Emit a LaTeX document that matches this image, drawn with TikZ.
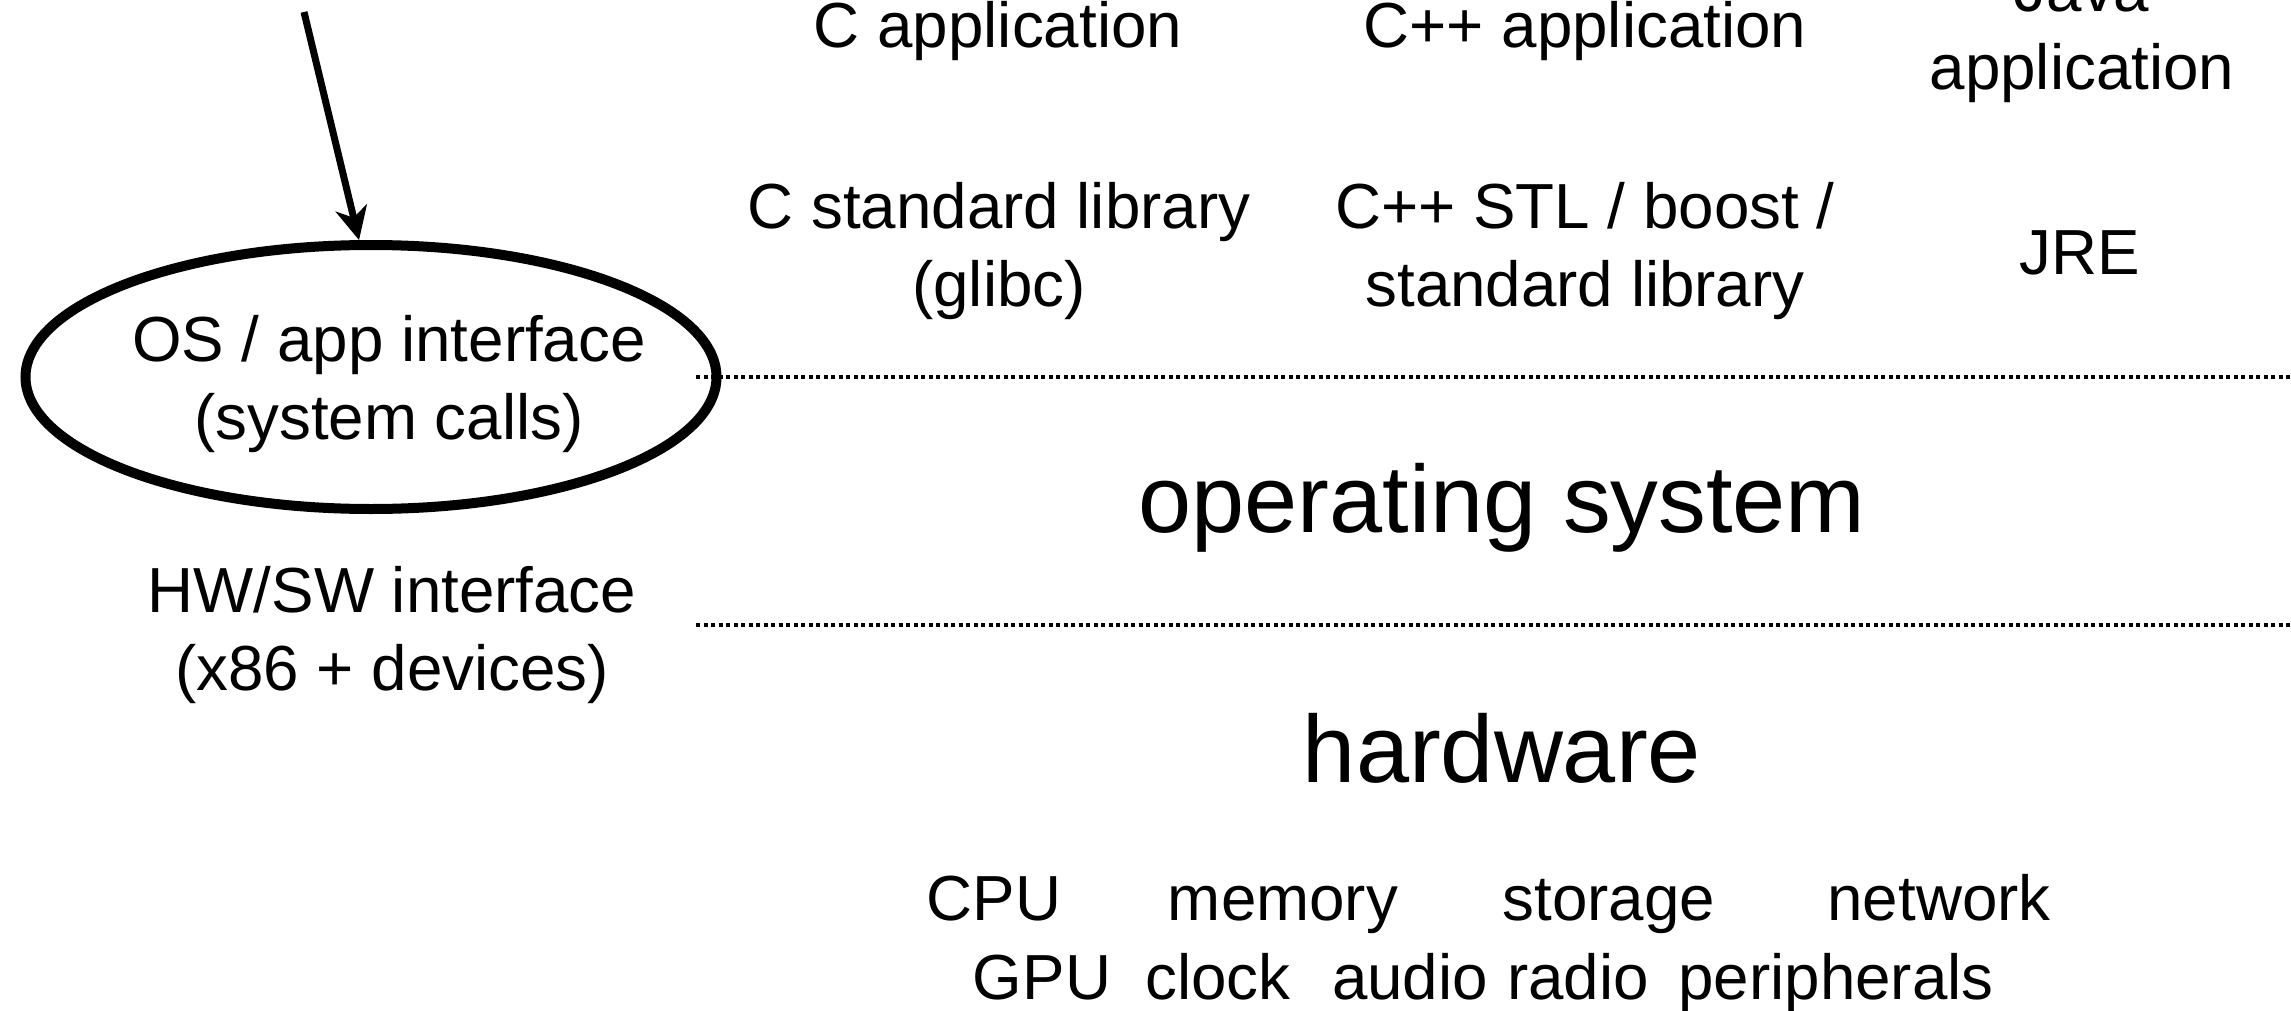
\documentclass[tikz,border=0pt]{standalone}
\usepackage{fontspec}
\setmainfont{Liberation Sans}
\usetikzlibrary{shapes.geometric,arrows.meta}
\begin{document}
\begin{tikzpicture}[x=0.5pt,y=-0.5pt,
  lbl/.style={inner sep=0pt, align=center, font=\fontsize{31.85}{39}\selectfont},
  word/.style={lbl, anchor=base},
  big/.style={inner sep=0pt, anchor=base, font=\fontsize{47.75}{57}\selectfont},
  layer/.style={line width=2pt, dash pattern=on 2pt off 1.75pt},
  iface/.style={ellipse, draw, line width=5pt, minimum width=345.5pt, minimum height=132pt, inner sep=0pt},
  pointer/.style={line width=3.5pt, -{Stealth[length=16.5pt, width=16pt, inset=5pt]}}
]
\useasboundingbox (0,0) rectangle (2291,1011);

% application layer
\node[word] (capp) at (998,48) {C application};
\node[word] (cppapp) at (1585,48) {C++ application};
\node[lbl] (java) at (2082,35) {Java\\application};

% libraries
\node[lbl] (clib) at (999,251) {C standard library\\(glibc)};
\node[lbl] (cpplib) at (1585,251) {C++ STL / boost /\\standard library};
\node[word] (jre) at (2080,274) {JRE};

% layer boundaries
\coordinate (b1a) at (696,377);
\coordinate (b1b) at (2291,377);
\coordinate (b2a) at (696,625);
\coordinate (b2b) at (2291,625);
\draw[layer] (b1a) -- (b1b);
\draw[layer] (b2a) -- (b2b);

% system call interface
\node[iface] (os) at (371,377) {};
\node[lbl] (ostext) at (389,384) {OS / app interface\\(system calls)};
\coordinate (src) at (304,12);
\draw[pointer] (src) -- (os.95);

\node[lbl] (hwsw) at (392,635) {HW/SW interface\\(x86 + devices)};

% layers
\node[big] (opsys) at (1502,532) {operating system};
\node[big] (hw) at (1502,782) {hardware};

% hardware components
\node[word] (cpu) at (994,920) {CPU};
\node[word] (mem) at (1283,920) {memory};
\node[word] (sto) at (1609,920) {storage};
\node[word] (net) at (1939,920) {network};
\node[word] (gpu) at (1042,999) {GPU};
\node[word] (clk) at (1218,999) {clock};
\node[word] (aud) at (1410,999) {audio};
\node[word] (rad) at (1578,999) {radio};
\node[word] (per) at (1836,999) {peripherals};
\end{tikzpicture}
\end{document}
